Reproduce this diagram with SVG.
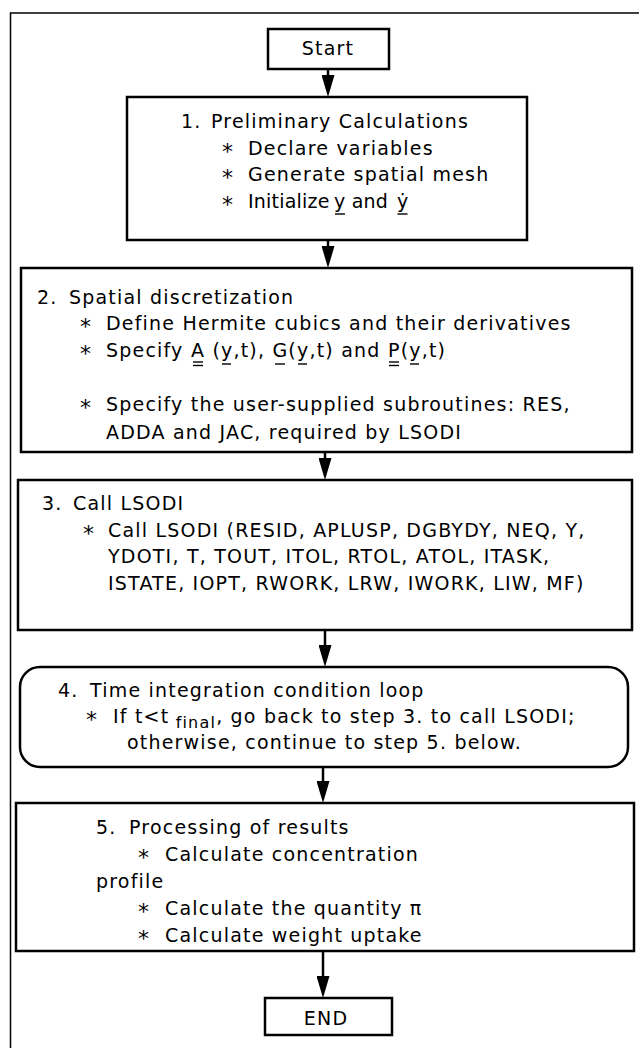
<svg xmlns="http://www.w3.org/2000/svg" width="639" height="1048" viewBox="0 0 639 1048">
<defs>
<style>
.t{font-family:"DejaVu Sans","Liberation Sans",sans-serif;font-size:19px;letter-spacing:1.2px;fill:#000}
.st{font-family:"DejaVu Sans","Liberation Sans",sans-serif;font-size:22px;fill:#000}
.c{text-anchor:middle}
.box{fill:#fff;stroke:#000;stroke-width:2.5}
.frame{fill:none;stroke:#000;stroke-width:1.5}
.ul{stroke:#000;stroke-width:1.4}
.conn line{stroke:#000;stroke-width:2.5}
</style>
<marker id="ah" viewBox="0 0 22 13" refX="12" refY="6.5" markerWidth="22" markerHeight="13" markerUnits="userSpaceOnUse" orient="auto">
<path d="M0,0 L22,6.5 L0,13 Z" fill="#000"/>
</marker>
</defs>
<rect width="639" height="1048" fill="#fff"/>
<path class="frame" d="M10.5,1048 V13 H639"/>

<g id="connectors" class="conn">
<line x1="328" y1="69" x2="328" y2="87" marker-end="url(#ah)"/>
<line x1="328" y1="240" x2="328" y2="258" marker-end="url(#ah)"/>
<line x1="325" y1="452" x2="325" y2="470" marker-end="url(#ah)"/>
<line x1="325" y1="630" x2="325" y2="657" marker-end="url(#ah)"/>
<line x1="323" y1="767" x2="323" y2="793" marker-end="url(#ah)"/>
<line x1="323" y1="951" x2="323" y2="988" marker-end="url(#ah)"/>
</g>

<g id="start">
<rect class="box" x="268" y="29" width="121" height="40"/>
<text class="t c" x="328" y="55">Start</text>
</g>

<g id="step1">
<rect class="box" x="127" y="97" width="400" height="143"/>
<text class="t" y="128"><tspan x="181">1.</tspan><tspan x="211">Preliminary Calculations</tspan></text>
<text class="st" x="222" y="159">*</text>
<text class="t" x="248" y="155">Declare variables</text>
<text class="st" x="222" y="185">*</text>
<text class="t" x="248" y="181">Generate spatial mesh</text>
<text class="st" x="222" y="212">*</text>
<text class="t" y="208" style="letter-spacing:0.2px"><tspan x="248">Initialize </tspan><tspan x="334">y</tspan><tspan> and </tspan><tspan x="397">ẏ</tspan></text>
<line class="ul" x1="335" y1="214" x2="345" y2="214"/>
<line class="ul" x1="397.5" y1="214" x2="407.5" y2="214"/>
</g>

<g id="step2">
<rect class="box" x="21" y="268" width="611" height="184"/>
<text class="t" y="304"><tspan x="37">2.</tspan><tspan x="69">Spatial discretization</tspan></text>
<text class="st" x="80" y="334">*</text>
<text class="t" x="106" y="330">Define Hermite cubics and their derivatives</text>
<text class="st" x="80" y="361">*</text>
<text class="t" y="357"><tspan x="106">Specify </tspan><tspan x="191">A</tspan><tspan> (</tspan><tspan x="221">y</tspan><tspan>,t), </tspan><tspan x="272.4">G</tspan><tspan>(</tspan><tspan x="297">y</tspan><tspan>,t) and </tspan><tspan x="388">P</tspan><tspan>(</tspan><tspan x="409.2">y</tspan><tspan>,t)</tspan></text>
<line class="ul" x1="193" y1="362" x2="203" y2="362"/>
<line class="ul" x1="193" y1="365.5" x2="203" y2="365.5"/>
<line class="ul" x1="222" y1="364" x2="231" y2="364"/>
<line class="ul" x1="275" y1="364" x2="285" y2="364"/>
<line class="ul" x1="298" y1="364" x2="307" y2="364"/>
<line class="ul" x1="389" y1="362" x2="399" y2="362"/>
<line class="ul" x1="389" y1="365.5" x2="399" y2="365.5"/>
<line class="ul" x1="410" y1="364" x2="419" y2="364"/>
<text class="st" x="80" y="415">*</text>
<text class="t" x="106" y="411">Specify the user-supplied subroutines: RES,</text>
<text class="t" x="106" y="439">ADDA and JAC, required by LSODI</text>
</g>

<g id="step3">
<rect class="box" x="18" y="480" width="614" height="150"/>
<text class="t" y="510"><tspan x="42">3.</tspan><tspan x="73">Call LSODI</tspan></text>
<text class="st" x="83" y="541">*</text>
<text class="t" x="108" y="537">Call LSODI (RESID, APLUSP, DGBYDY, NEQ, Y,</text>
<text class="t" x="108" y="563">YDOTI, T, TOUT, ITOL, RTOL, ATOL, ITASK,</text>
<text class="t" x="108" y="590">ISTATE, IOPT, RWORK, LRW, IWORK, LIW, MF)</text>
</g>

<g id="step4">
<rect class="box" x="20" y="667" width="608" height="100" rx="20" ry="20"/>
<text class="t" y="697"><tspan x="58">4.</tspan><tspan x="90">Time integration condition loop</tspan></text>
<text class="st" x="86" y="727">*</text>
<text class="t" y="723"><tspan x="113">If t&lt;t</tspan><tspan font-size="16" dy="5"> final</tspan><tspan dy="-5">, go back to step 3. to call LSODI;</tspan></text>
<text class="t" x="127" y="749">otherwise, continue to step 5. below.</text>
</g>

<g id="step5">
<rect class="box" x="16" y="803" width="618" height="148"/>
<text class="t" y="834"><tspan x="96">5.</tspan><tspan x="129">Processing of results</tspan></text>
<text class="st" x="138" y="865">*</text>
<text class="t" x="165" y="861">Calculate concentration</text>
<text class="t" x="96" y="888">profile</text>
<text class="st" x="138" y="919">*</text>
<text class="t" x="165" y="915">Calculate the quantity π</text>
<text class="st" x="138" y="946">*</text>
<text class="t" x="165" y="942">Calculate weight uptake</text>
</g>

<g id="end">
<rect class="box" x="265" y="998" width="127" height="37"/>
<text class="t c" x="326" y="1025">END</text>
</g>
</svg>
